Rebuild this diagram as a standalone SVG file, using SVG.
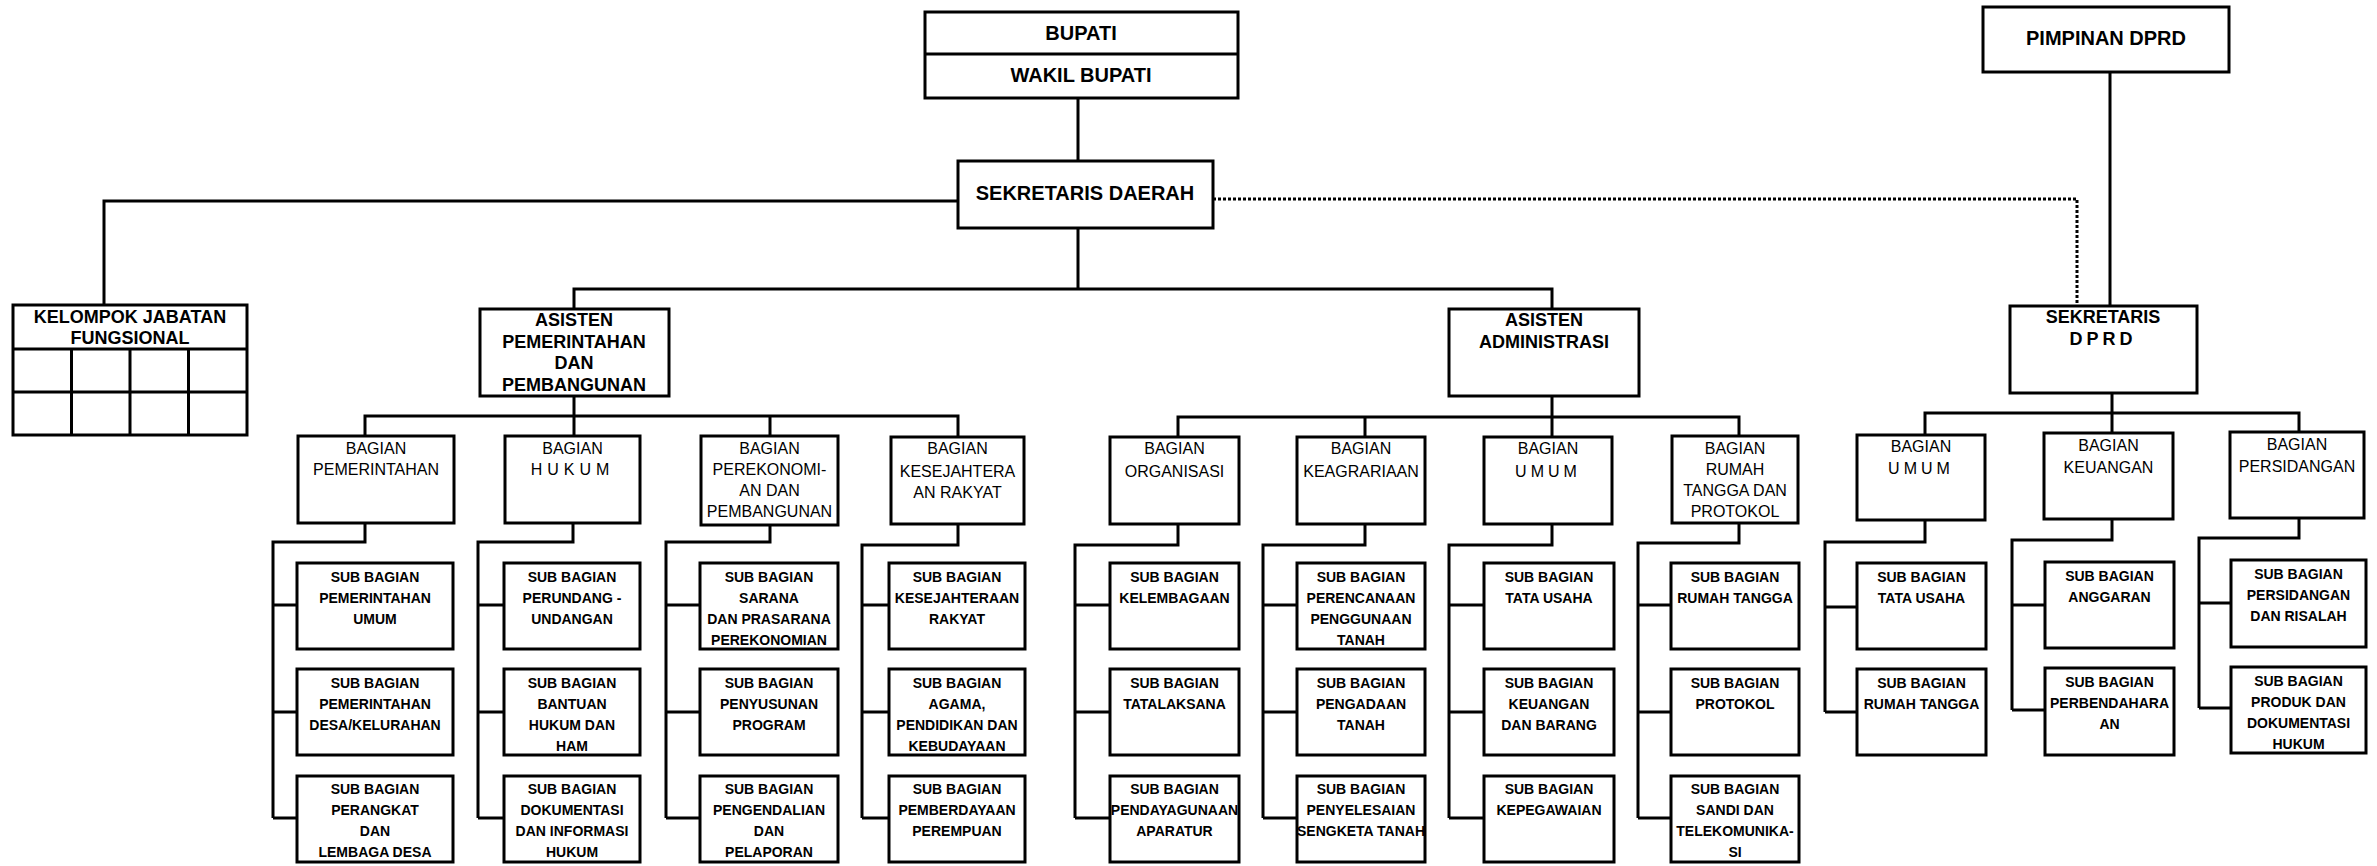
<svg xmlns="http://www.w3.org/2000/svg" width="2377" height="866" viewBox="0 0 2377 866">
<style>
.b{fill:#fff;stroke:#000;stroke-width:3}
.l{fill:none;stroke:#000;stroke-width:3}
.d{fill:none;stroke:#000;stroke-width:3;stroke-dasharray:3 2}
text{font-family:"Liberation Sans",Arial,sans-serif;text-anchor:middle;fill:#000}
.h{font-size:20px;font-weight:bold}
.a{font-size:18px;font-weight:bold}
.g{font-size:16px}
.s{font-size:14px;font-weight:bold}
</style>
<rect width="2377" height="866" fill="#fff"/>
<g id="connectors">
<path class="l" d="M1078 98V161M1078 228V289M574 309V289H1552V309M958 201H104V305M2110 72V306"/>
<path class="d" d="M1213 199H2077V306"/>
<path class="l" d="M574 396V416M365 436V416H958V437M574 416V436M770 416V436"/>
<path class="l" d="M1552 396V437M1178 437V417H1739V437M1365 417V437"/>
<path class="l" d="M2112 393V434M1925 435V413H2299V432"/>
<path class="l" d="M365 523V542H273V818M273 605H297M273 712H297M273 818H297"/>
<path class="l" d="M573 523V542H478V818M478 605H504M478 712H504M478 818H504"/>
<path class="l" d="M770 525V542H666V818M666 605H700M666 712H700M666 818H700"/>
<path class="l" d="M958 524V545H862V818M862 605H889M862 712H889M862 818H889"/>
<path class="l" d="M1178 524V545H1075V818M1075 605H1110M1075 712H1110M1075 818H1110"/>
<path class="l" d="M1365 524V545H1263V818M1263 605H1297M1263 712H1297M1263 818H1297"/>
<path class="l" d="M1552 524V545H1449V818M1449 605H1484M1449 712H1484M1449 818H1484"/>
<path class="l" d="M1739 523V543H1638V818M1638 605H1671M1638 712H1671M1638 818H1671"/>
<path class="l" d="M1925 520V542H1825V712M1825 607H1857M1825 712H1857"/>
<path class="l" d="M2112 519V540H2012V710M2012 605H2045M2012 710H2045"/>
<path class="l" d="M2299 518V538H2199V708M2199 603H2231M2199 708H2231"/>
</g>

<g id="bupati">
<rect class="b" x="925" y="12" width="313" height="86"/>
<path class="l" d="M925 54H1238"/>
<text class="h" x="1081" y="40">BUPATI</text>
<text class="h" x="1081" y="82">WAKIL BUPATI</text>
</g>
<g id="sekda">
<rect class="b" x="958" y="161" width="255" height="67"/>
<text class="h" x="1085" y="200">SEKRETARIS DAERAH</text>
</g>
<g id="pimpinan-dprd">
<rect class="b" x="1983" y="7" width="246" height="65"/>
<text class="h" x="2106" y="45">PIMPINAN DPRD</text>
</g>
<g id="kelompok">
<rect class="b" x="13" y="305" width="234" height="130"/>
<path class="l" d="M13 349H247M13 392H247M71.5 349V435M130 349V435M188.5 349V435"/>
<text class="a" x="130" y="323">KELOMPOK JABATAN</text>
<text class="a" x="130" y="344">FUNGSIONAL</text>
</g>
<g id="asisten-pem">
<rect class="b" x="480" y="309" width="189" height="87"/>
<text class="a" x="574" y="326">ASISTEN</text>
<text class="a" x="574" y="348">PEMERINTAHAN</text>
<text class="a" x="574" y="369">DAN</text>
<text class="a" x="574" y="391">PEMBANGUNAN</text>
</g>
<g id="asisten-adm">
<rect class="b" x="1449" y="309" width="190" height="87"/>
<text class="a" x="1544" y="326">ASISTEN</text>
<text class="a" x="1544" y="348">ADMINISTRASI</text>
</g>
<g id="sekwan">
<rect class="b" x="2010" y="306" width="187" height="87"/>
<text class="a" x="2103" y="323">SEKRETARIS</text>
<text class="a" x="2103" y="345" letter-spacing="4">DPRD</text>
</g>

<g id="bag-pemerintahan">
<rect class="b" x="298" y="436" width="156" height="87"/>
<text class="g" x="376" y="454">BAGIAN</text>
<text class="g" x="376" y="475">PEMERINTAHAN</text>
</g>
<g id="bag-hukum">
<rect class="b" x="505" y="436" width="135" height="87"/>
<text class="g" x="572.5" y="454">BAGIAN</text>
<text class="g" x="572.5" y="475" letter-spacing="5">HUKUM</text>
</g>
<g id="bag-perekonomian">
<rect class="b" x="701" y="436" width="137" height="89"/>
<text class="g" x="769.5" y="454">BAGIAN</text>
<text class="g" x="769.5" y="475">PEREKONOMI-</text>
<text class="g" x="769.5" y="496">AN DAN</text>
<text class="g" x="769.5" y="517">PEMBANGUNAN</text>
</g>
<g id="bag-kesejahteraan">
<rect class="b" x="891" y="437" width="133" height="87"/>
<text class="g" x="957.5" y="454">BAGIAN</text>
<text class="g" x="957.5" y="477">KESEJAHTERA</text>
<text class="g" x="957.5" y="498">AN RAKYAT</text>
</g>
<g id="bag-organisasi">
<rect class="b" x="1110" y="437" width="129" height="87"/>
<text class="g" x="1174.5" y="454">BAGIAN</text>
<text class="g" x="1174.5" y="477">ORGANISASI</text>
</g>
<g id="bag-keagrariaan">
<rect class="b" x="1297" y="437" width="128" height="87"/>
<text class="g" x="1361" y="454">BAGIAN</text>
<text class="g" x="1361" y="477">KEAGRARIAAN</text>
</g>
<g id="bag-umum">
<rect class="b" x="1484" y="437" width="128" height="87"/>
<text class="g" x="1548" y="454">BAGIAN</text>
<text class="g" x="1548" y="477" letter-spacing="4">UMUM</text>
</g>
<g id="bag-rumah-tangga">
<rect class="b" x="1672" y="436" width="126" height="87"/>
<text class="g" x="1735" y="454">BAGIAN</text>
<text class="g" x="1735" y="475">RUMAH</text>
<text class="g" x="1735" y="496">TANGGA DAN</text>
<text class="g" x="1735" y="517">PROTOKOL</text>
</g>
<g id="bag-umum-dprd">
<rect class="b" x="1857" y="435" width="128" height="85"/>
<text class="g" x="1921" y="452">BAGIAN</text>
<text class="g" x="1921" y="474" letter-spacing="4">UMUM</text>
</g>
<g id="bag-keuangan">
<rect class="b" x="2044" y="433" width="129" height="86"/>
<text class="g" x="2108.5" y="451">BAGIAN</text>
<text class="g" x="2108.5" y="473">KEUANGAN</text>
</g>
<g id="bag-persidangan">
<rect class="b" x="2230" y="432" width="134" height="86"/>
<text class="g" x="2297" y="450">BAGIAN</text>
<text class="g" x="2297" y="472">PERSIDANGAN</text>
</g>

<g id="sub-pem-1"><rect class="b" x="297" y="563" width="156" height="86"/>
<text class="s" x="375" y="582">SUB BAGIAN</text><text class="s" x="375" y="603">PEMERINTAHAN</text><text class="s" x="375" y="624">UMUM</text></g>
<g id="sub-pem-2"><rect class="b" x="297" y="669" width="156" height="86"/>
<text class="s" x="375" y="688">SUB BAGIAN</text><text class="s" x="375" y="709">PEMERINTAHAN</text><text class="s" x="375" y="730">DESA/KELURAHAN</text></g>
<g id="sub-pem-3"><rect class="b" x="297" y="776" width="156" height="86"/>
<text class="s" x="375" y="794">SUB BAGIAN</text><text class="s" x="375" y="815">PERANGKAT</text><text class="s" x="375" y="836">DAN</text><text class="s" x="375" y="857">LEMBAGA DESA</text></g>

<g id="sub-hukum-1"><rect class="b" x="504" y="563" width="136" height="86"/>
<text class="s" x="572" y="582">SUB BAGIAN</text><text class="s" x="572" y="603">PERUNDANG -</text><text class="s" x="572" y="624">UNDANGAN</text></g>
<g id="sub-hukum-2"><rect class="b" x="504" y="669" width="136" height="86"/>
<text class="s" x="572" y="688">SUB BAGIAN</text><text class="s" x="572" y="709">BANTUAN</text><text class="s" x="572" y="730">HUKUM DAN</text><text class="s" x="572" y="751">HAM</text></g>
<g id="sub-hukum-3"><rect class="b" x="504" y="776" width="136" height="86"/>
<text class="s" x="572" y="794">SUB BAGIAN</text><text class="s" x="572" y="815">DOKUMENTASI</text><text class="s" x="572" y="836">DAN INFORMASI</text><text class="s" x="572" y="857">HUKUM</text></g>

<g id="sub-perek-1"><rect class="b" x="700" y="563" width="138" height="86"/>
<text class="s" x="769" y="582">SUB BAGIAN</text><text class="s" x="769" y="603">SARANA</text><text class="s" x="769" y="624">DAN PRASARANA</text><text class="s" x="769" y="645">PEREKONOMIAN</text></g>
<g id="sub-perek-2"><rect class="b" x="700" y="669" width="138" height="86"/>
<text class="s" x="769" y="688">SUB BAGIAN</text><text class="s" x="769" y="709">PENYUSUNAN</text><text class="s" x="769" y="730">PROGRAM</text></g>
<g id="sub-perek-3"><rect class="b" x="700" y="776" width="138" height="86"/>
<text class="s" x="769" y="794">SUB BAGIAN</text><text class="s" x="769" y="815">PENGENDALIAN</text><text class="s" x="769" y="836">DAN</text><text class="s" x="769" y="857">PELAPORAN</text></g>

<g id="sub-kesej-1"><rect class="b" x="889" y="563" width="136" height="86"/>
<text class="s" x="957" y="582">SUB BAGIAN</text><text class="s" x="957" y="603">KESEJAHTERAAN</text><text class="s" x="957" y="624">RAKYAT</text></g>
<g id="sub-kesej-2"><rect class="b" x="889" y="669" width="136" height="86"/>
<text class="s" x="957" y="688">SUB BAGIAN</text><text class="s" x="957" y="709">AGAMA,</text><text class="s" x="957" y="730">PENDIDIKAN DAN</text><text class="s" x="957" y="751">KEBUDAYAAN</text></g>
<g id="sub-kesej-3"><rect class="b" x="889" y="776" width="136" height="86"/>
<text class="s" x="957" y="794">SUB BAGIAN</text><text class="s" x="957" y="815">PEMBERDAYAAN</text><text class="s" x="957" y="836">PEREMPUAN</text></g>

<g id="sub-org-1"><rect class="b" x="1110" y="563" width="129" height="86"/>
<text class="s" x="1174.5" y="582">SUB BAGIAN</text><text class="s" x="1174.5" y="603">KELEMBAGAAN</text></g>
<g id="sub-org-2"><rect class="b" x="1110" y="669" width="129" height="86"/>
<text class="s" x="1174.5" y="688">SUB BAGIAN</text><text class="s" x="1174.5" y="709">TATALAKSANA</text></g>
<g id="sub-org-3"><rect class="b" x="1110" y="776" width="129" height="86"/>
<text class="s" x="1174.5" y="794">SUB BAGIAN</text><text class="s" x="1174.5" y="815">PENDAYAGUNAAN</text><text class="s" x="1174.5" y="836">APARATUR</text></g>

<g id="sub-agr-1"><rect class="b" x="1297" y="563" width="128" height="86"/>
<text class="s" x="1361" y="582">SUB BAGIAN</text><text class="s" x="1361" y="603">PERENCANAAN</text><text class="s" x="1361" y="624">PENGGUNAAN</text><text class="s" x="1361" y="645">TANAH</text></g>
<g id="sub-agr-2"><rect class="b" x="1297" y="669" width="128" height="86"/>
<text class="s" x="1361" y="688">SUB BAGIAN</text><text class="s" x="1361" y="709">PENGADAAN</text><text class="s" x="1361" y="730">TANAH</text></g>
<g id="sub-agr-3"><rect class="b" x="1297" y="776" width="128" height="86"/>
<text class="s" x="1361" y="794">SUB BAGIAN</text><text class="s" x="1361" y="815">PENYELESAIAN</text><text class="s" x="1361" y="836">SENGKETA TANAH</text></g>

<g id="sub-umum-1"><rect class="b" x="1484" y="563" width="130" height="86"/>
<text class="s" x="1549" y="582">SUB BAGIAN</text><text class="s" x="1549" y="603">TATA USAHA</text></g>
<g id="sub-umum-2"><rect class="b" x="1484" y="669" width="130" height="86"/>
<text class="s" x="1549" y="688">SUB BAGIAN</text><text class="s" x="1549" y="709">KEUANGAN</text><text class="s" x="1549" y="730">DAN BARANG</text></g>
<g id="sub-umum-3"><rect class="b" x="1484" y="776" width="130" height="86"/>
<text class="s" x="1549" y="794">SUB BAGIAN</text><text class="s" x="1549" y="815">KEPEGAWAIAN</text></g>

<g id="sub-rt-1"><rect class="b" x="1671" y="563" width="128" height="86"/>
<text class="s" x="1735" y="582">SUB BAGIAN</text><text class="s" x="1735" y="603">RUMAH TANGGA</text></g>
<g id="sub-rt-2"><rect class="b" x="1671" y="669" width="128" height="86"/>
<text class="s" x="1735" y="688">SUB BAGIAN</text><text class="s" x="1735" y="709">PROTOKOL</text></g>
<g id="sub-rt-3"><rect class="b" x="1671" y="776" width="128" height="86"/>
<text class="s" x="1735" y="794">SUB BAGIAN</text><text class="s" x="1735" y="815">SANDI DAN</text><text class="s" x="1735" y="836">TELEKOMUNIKA-</text><text class="s" x="1735" y="857">SI</text></g>

<g id="sub-dumum-1"><rect class="b" x="1857" y="563" width="129" height="86"/>
<text class="s" x="1921.5" y="582">SUB BAGIAN</text><text class="s" x="1921.5" y="603">TATA USAHA</text></g>
<g id="sub-dumum-2"><rect class="b" x="1857" y="669" width="129" height="86"/>
<text class="s" x="1921.5" y="688">SUB BAGIAN</text><text class="s" x="1921.5" y="709">RUMAH TANGGA</text></g>

<g id="sub-keu-1"><rect class="b" x="2045" y="562" width="129" height="86"/>
<text class="s" x="2109.5" y="581">SUB BAGIAN</text><text class="s" x="2109.5" y="602">ANGGARAN</text></g>
<g id="sub-keu-2"><rect class="b" x="2045" y="668" width="129" height="87"/>
<text class="s" x="2109.5" y="687">SUB BAGIAN</text><text class="s" x="2109.5" y="708">PERBENDAHARA</text><text class="s" x="2109.5" y="729">AN</text></g>

<g id="sub-sid-1"><rect class="b" x="2231" y="560" width="135" height="87"/>
<text class="s" x="2298.5" y="579">SUB BAGIAN</text><text class="s" x="2298.5" y="600">PERSIDANGAN</text><text class="s" x="2298.5" y="621">DAN RISALAH</text></g>
<g id="sub-sid-2"><rect class="b" x="2231" y="667" width="135" height="86"/>
<text class="s" x="2298.5" y="686">SUB BAGIAN</text><text class="s" x="2298.5" y="707">PRODUK DAN</text><text class="s" x="2298.5" y="728">DOKUMENTASI</text><text class="s" x="2298.5" y="749">HUKUM</text></g>
</svg>
